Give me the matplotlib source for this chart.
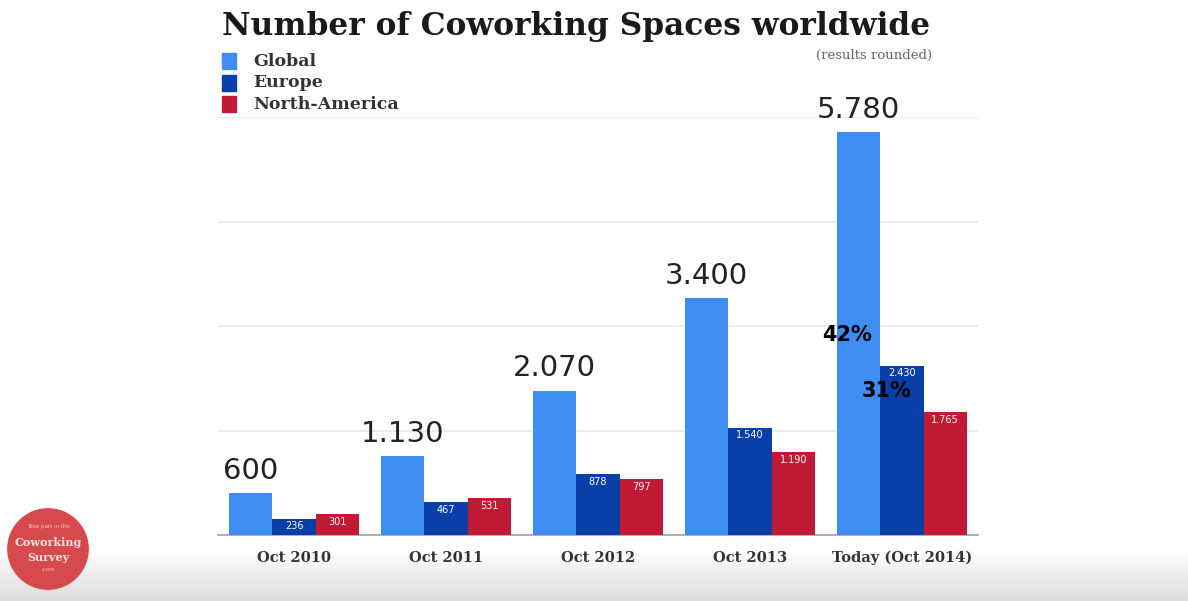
import matplotlib.pyplot as plt
import numpy as np
from matplotlib.patches import Circle, Rectangle

years = ['Oct 2010', 'Oct 2011', 'Oct 2012', 'Oct 2013', 'Today (Oct 2014)']
global_counts = [600, 1130, 2070, 3400, 5780]
europe_counts = [236, 467, 878, 1540, 2430]
na_counts = [301, 531, 797, 1190, 1765]
series_names = ['Global', 'Europe', 'North-America']
colors = ['#3d8df2', '#0a3ea8', '#c01a34']


def fmt(v):
    # european thousands separator
    return '{:,}'.format(v).replace(',', '.')


fig = plt.figure(figsize=(11.88, 6.01), dpi=100)
fig.patch.set_facecolor('white')

# grey fade along the bottom edge
bg = fig.add_axes([0, 0, 1, 0.085], zorder=-5)
grad = np.linspace(0.86, 1.0, 100).reshape(-1, 1)
bg.imshow(grad, cmap='gray', vmin=0, vmax=1, aspect='auto', origin='lower',
          extent=[0, 1, 0, 1])
bg.axis('off')

ax = fig.add_axes([218 / 1188, 66 / 601, 760 / 1188, 418 / 601])
x = np.arange(len(years))
w = 0.285

b1 = ax.bar(x - w, global_counts, w, color=colors[0], zorder=3)
b2 = ax.bar(x, europe_counts, w, color=colors[1], zorder=3)
b3 = ax.bar(x + w, na_counts, w, color=colors[2], zorder=3)

ax.set_xlim(-0.5, 4.5)
ax.set_ylim(0, 6000)
ax.set_yticks([1500, 3000, 4500, 6000])
ax.yaxis.grid(True, color='#e8e8e8', linewidth=1.2)
ax.tick_params(axis='y', left=False, labelleft=False)
ax.tick_params(axis='x', bottom=False, pad=8)
for s in ['top', 'right', 'left']:
    ax.spines[s].set_visible(False)
ax.spines['bottom'].set_color('#a0a0a0')
ax.spines['bottom'].set_linewidth(1.2)
ax.set_xticks(x)
ax.set_xticklabels(years, fontfamily='DejaVu Serif', fontweight='bold',
                   fontsize=10.5, color='#333333')

for rect, v in zip(b1, global_counts):
    ax.text(rect.get_x() + rect.get_width() / 2, v + 120, fmt(v),
            ha='center', va='bottom', fontsize=21, color='#222222')
for bars, vals in [(b2, europe_counts), (b3, na_counts)]:
    for rect, v in zip(bars, vals):
        ax.text(rect.get_x() + rect.get_width() / 2, v - 40, fmt(v),
                ha='center', va='top', fontsize=7, color='white')

# share annotations for 2014
ax.text(3.64, 2870, '42%', ha='center', va='center', fontsize=15,
        fontweight='bold', color='black', zorder=5)
ax.text(3.9, 2060, '31%', ha='center', va='center', fontsize=15,
        fontweight='bold', color='black', zorder=5)

fig.text(222 / 1188, 1 - 26 / 601, 'Number of Coworking Spaces worldwide',
         fontfamily='DejaVu Serif', fontweight='bold', fontsize=22.5,
         color='#1a1a1a', va='center', ha='left')
fig.text(932 / 1188, 1 - 55 / 601, '(results rounded)',
         fontfamily='DejaVu Serif', fontsize=9.5, color='#666666',
         va='center', ha='right')

# legend drawn by hand
for i, (name, c) in enumerate(zip(series_names, colors)):
    yc = 1 - (61 + i * 21.5) / 601
    fig.patches.append(Rectangle((222 / 1188, yc - 8 / 601), 14 / 1188, 16 / 601,
                                 transform=fig.transFigure, color=c, figure=fig))
    fig.text(253 / 1188, yc, name, fontfamily='DejaVu Serif', fontweight='bold',
             fontsize=12.5, color='#333333', va='center', ha='left')

# survey badge
logo = fig.add_axes([7 / 1188, 11 / 601, 82 / 1188, 82 / 601])
logo.set_xlim(0, 1)
logo.set_ylim(0, 1)
logo.set_aspect('equal')
logo.axis('off')
logo.add_patch(Circle((0.5, 0.5), 0.49, color='#d64a4e'))
logo.text(0.5, 0.77, 'Take part in the', ha='center', va='center',
          fontsize=4, color='#f4c0c0')
logo.text(0.5, 0.58, 'Coworking', ha='center', va='center', fontsize=8,
          fontfamily='DejaVu Serif', fontweight='bold', color='#fbe4e4')
logo.text(0.5, 0.40, 'Survey', ha='center', va='center', fontsize=8,
          fontfamily='DejaVu Serif', fontweight='bold', color='#fbe4e4')
logo.text(0.5, 0.25, '.com', ha='center', va='center', fontsize=4,
          color='#f4c0c0')

fig.savefig('out.png', dpi=100)
